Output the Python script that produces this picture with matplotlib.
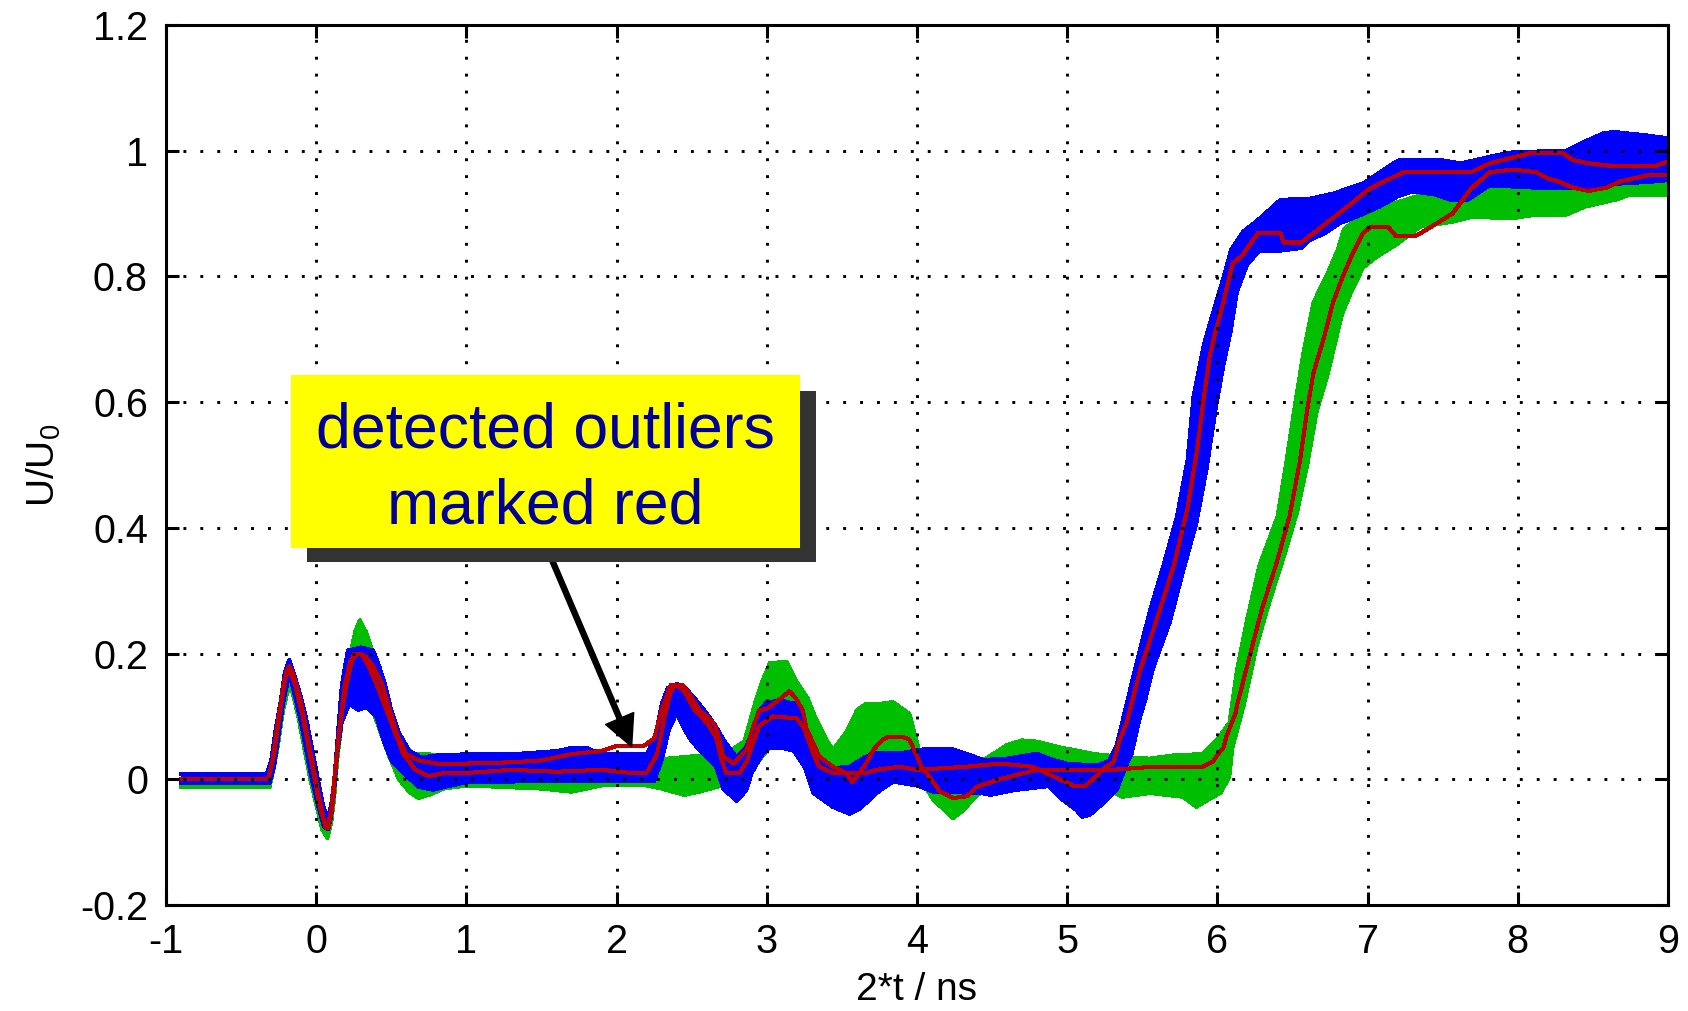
import matplotlib
matplotlib.use("Agg")
import matplotlib.pyplot as plt
from matplotlib.patches import Rectangle

plt.rcParams['font.family'] = ['Liberation Sans', 'DejaVu Sans']
plt.rcParams['axes.unicode_minus'] = False

# Envelopes of the two families of step responses, given as (t, U/U0) points.
# "upper" is the upper/left edge of the bundle, "lower" the lower/right edge.
BLUE_UPPER = [
    (-0.90, 0.008), (-0.33, 0.008), (-0.30, 0.03), (-0.27, 0.08), (-0.24, 0.12),
    (-0.21, 0.17), (-0.18, 0.19), (-0.15, 0.17), (-0.10, 0.13), (-0.06, 0.09),
    (-0.02, 0.04), (0.02, -0.01), (0.05, -0.045), (0.08, -0.06), (0.10, -0.04),
    (0.12, 0.0), (0.14, 0.06), (0.17, 0.15), (0.21, 0.205), (0.30, 0.21),
    (0.38, 0.205), (0.42, 0.18), (0.46, 0.15), (0.50, 0.11), (0.55, 0.075),
    (0.62, 0.045), (0.70, 0.035), (0.80, 0.038), (1.00, 0.04), (1.30, 0.04),
    (1.60, 0.045), (1.70, 0.05), (1.80, 0.05), (1.90, 0.04), (2.20, 0.04),
    (2.26, 0.07), (2.30, 0.12), (2.34, 0.145), (2.40, 0.152), (2.46, 0.145),
    (2.53, 0.126), (2.60, 0.105), (2.66, 0.085), (2.72, 0.06), (2.80, 0.035),
    (2.86, 0.05), (2.90, 0.075), (2.95, 0.11), (3.00, 0.123), (3.10, 0.125),
    (3.20, 0.12), (3.24, 0.09), (3.28, 0.055), (3.33, 0.036), (3.44, 0.018),
    (3.55, 0.02), (3.65, 0.035), (3.72, 0.042), (3.90, 0.042), (4.07, 0.049),
    (4.22, 0.049), (4.35, 0.039), (4.44, 0.031), (4.60, 0.033), (4.80, 0.041),
    (4.88, 0.033), (5.00, 0.025), (5.20, 0.022), (5.28, 0.03), (5.33, 0.055),
    (5.37, 0.095), (5.46, 0.184), (5.55, 0.268), (5.64, 0.34), (5.73, 0.418),
    (5.80, 0.507), (5.84, 0.608), (5.91, 0.692), (5.97, 0.742), (6.04, 0.798),
    (6.09, 0.842), (6.17, 0.871), (6.27, 0.89), (6.42, 0.922), (6.62, 0.924),
    (6.77, 0.932), (6.97, 0.948), (7.17, 0.98), (7.22, 0.986), (7.47, 0.986),
    (7.62, 0.98), (7.84, 0.992), (7.97, 0.998), (8.32, 1.0), (8.42, 1.012),
    (8.57, 1.028), (8.64, 1.03), (8.84, 1.025), (9.00, 1.02),
]
BLUE_LOWER = [
    (-0.90, -0.006), (-0.31, -0.006), (-0.28, 0.02), (-0.25, 0.07), (-0.22, 0.12),
    (-0.19, 0.155), (-0.17, 0.16), (-0.14, 0.13), (-0.11, 0.10), (-0.07, 0.05),
    (-0.03, 0.0), (0.01, -0.04), (0.05, -0.075), (0.08, -0.08), (0.10, -0.06),
    (0.12, -0.02), (0.14, 0.04), (0.17, 0.09), (0.22, 0.12), (0.28, 0.11),
    (0.33, 0.115), (0.40, 0.10), (0.45, 0.06), (0.50, 0.03), (0.58, 0.01),
    (0.68, -0.012), (0.78, -0.017), (0.86, -0.012), (1.00, -0.005), (1.50, -0.003),
    (2.25, -0.003), (2.30, 0.03), (2.35, 0.08), (2.40, 0.105), (2.45, 0.08),
    (2.50, 0.06), (2.58, 0.04), (2.66, 0.02), (2.71, -0.015), (2.80, -0.035),
    (2.865, -0.017), (2.90, 0.01), (2.96, 0.035), (3.00, 0.05), (3.10, 0.05),
    (3.18, 0.045), (3.25, 0.02), (3.31, -0.022), (3.44, -0.044), (3.55, -0.055),
    (3.62, -0.047), (3.73, -0.022), (3.84, -0.004), (4.00, -0.01), (4.11, -0.02),
    (4.43, -0.022), (4.49, -0.025), (4.66, -0.017), (4.88, -0.011), (4.97, -0.033),
    (5.06, -0.049), (5.10, -0.06), (5.15, -0.057), (5.24, -0.038), (5.33, -0.017),
    (5.39, 0.02), (5.43, 0.041), (5.48, 0.094), (5.52, 0.126), (5.574, 0.178),
    (5.685, 0.251), (5.77, 0.329), (5.86, 0.407), (5.93, 0.496), (5.99, 0.591),
    (6.04, 0.658), (6.09, 0.714), (6.13, 0.775), (6.20, 0.82), (6.28, 0.84),
    (6.39, 0.84), (6.56, 0.845), (6.61, 0.857), (6.71, 0.868), (6.81, 0.884),
    (6.93, 0.895), (7.08, 0.911), (7.20, 0.927), (7.30, 0.935), (7.45, 0.93),
    (7.55, 0.922), (7.67, 0.922), (7.80, 0.943), (7.95, 0.943), (8.20, 0.94),
    (8.45, 0.94), (8.70, 0.948), (8.87, 0.95), (9.00, 0.953),
]
GREEN_UPPER = [
    (-0.90, -0.004), (-0.32, -0.004), (-0.29, 0.03), (-0.26, 0.08), (-0.23, 0.12),
    (-0.20, 0.16), (-0.18, 0.17), (-0.14, 0.15), (-0.10, 0.12), (-0.06, 0.08),
    (-0.02, 0.03), (0.02, -0.02), (0.05, -0.06), (0.08, -0.07), (0.11, -0.03),
    (0.13, 0.03), (0.16, 0.10), (0.20, 0.17), (0.26, 0.235), (0.29, 0.253),
    (0.33, 0.235), (0.38, 0.20), (0.45, 0.15), (0.52, 0.09), (0.58, 0.055),
    (0.65, 0.04), (0.75, 0.04), (0.90, 0.035), (1.50, 0.035), (1.90, 0.04),
    (2.20, 0.03), (2.65, 0.04), (2.75, 0.045), (2.85, 0.06), (2.92, 0.12),
    (2.96, 0.15), (3.02, 0.185), (3.13, 0.187), (3.20, 0.155), (3.27, 0.13),
    (3.33, 0.095), (3.40, 0.062), (3.44, 0.047), (3.53, 0.075), (3.60, 0.11),
    (3.66, 0.12), (3.75, 0.12), (3.84, 0.123), (3.95, 0.104), (3.99, 0.068),
    (4.02, 0.04), (4.20, 0.03), (4.46, 0.033), (4.60, 0.055), (4.70, 0.062),
    (4.80, 0.06), (4.95, 0.051), (5.19, 0.04), (5.40, 0.035), (5.55, 0.033),
    (5.73, 0.039), (5.90, 0.04), (5.99, 0.061), (6.08, 0.09), (6.13, 0.174),
    (6.20, 0.257), (6.28, 0.341), (6.40, 0.418), (6.46, 0.507), (6.52, 0.602),
    (6.57, 0.675), (6.64, 0.759), (6.73, 0.803), (6.80, 0.842), (6.84, 0.874),
    (6.96, 0.90), (7.17, 0.916), (7.32, 0.927), (7.47, 0.938), (7.62, 0.945),
    (7.97, 0.943), (8.20, 0.948), (8.45, 0.953), (8.70, 0.959), (9.00, 0.967),
]
GREEN_LOWER = [
    (-0.90, -0.012), (-0.31, -0.012), (-0.28, 0.02), (-0.25, 0.06), (-0.22, 0.11),
    (-0.19, 0.14), (-0.16, 0.14), (-0.12, 0.10), (-0.08, 0.05), (-0.04, 0.0),
    (0.00, -0.04), (0.04, -0.08), (0.075, -0.094), (0.10, -0.07), (0.12, -0.03),
    (0.14, 0.03), (0.17, 0.09), (0.22, 0.13), (0.29, 0.12), (0.36, 0.12),
    (0.42, 0.08), (0.48, 0.04), (0.55, 0.0), (0.62, -0.02), (0.68, -0.03),
    (0.75, -0.025), (0.85, -0.015), (1.00, -0.01), (1.50, -0.015), (1.70, -0.02),
    (1.90, -0.01), (2.20, -0.01), (2.30, -0.015), (2.45, -0.025), (2.55, -0.02),
    (2.70, -0.01), (2.85, 0.0), (2.95, 0.03), (3.05, 0.06), (3.20, 0.06),
    (3.30, 0.03), (3.45, 0.0), (3.53, 0.01), (3.66, 0.025), (3.88, 0.04),
    (3.98, 0.03), (4.05, -0.01), (4.11, -0.033), (4.24, -0.062), (4.31, -0.049),
    (4.37, -0.033), (4.42, -0.022), (4.60, -0.005), (4.90, -0.005), (5.20, -0.01),
    (5.37, -0.028), (5.55, -0.022), (5.77, -0.028), (5.86, -0.044), (5.95, -0.031),
    (6.02, -0.022), (6.08, 0.004), (6.10, 0.05), (6.175, 0.117), (6.262, 0.212),
    (6.35, 0.285), (6.44, 0.352), (6.53, 0.424), (6.60, 0.502), (6.662, 0.586),
    (6.73, 0.64), (6.83, 0.74), (6.90, 0.78), (6.97, 0.814), (7.06, 0.831),
    (7.20, 0.852), (7.35, 0.879), (7.57, 0.887), (7.70, 0.895), (7.95, 0.892),
    (8.12, 0.898), (8.32, 0.898), (8.45, 0.911), (8.65, 0.922), (8.75, 0.93),
    (9.00, 0.93),
]

# Traces flagged as outliers
RED_EARLY = [
    (-0.90, 0.0), (-0.32, 0.0), (-0.28, 0.04), (-0.24, 0.11), (-0.20, 0.17),
    (-0.18, 0.18), (-0.15, 0.165), (-0.10, 0.12), (-0.06, 0.07), (-0.02, 0.02),
    (0.02, -0.03), (0.06, -0.075), (0.08, -0.078), (0.11, -0.04), (0.13, 0.02),
    (0.16, 0.09), (0.20, 0.15), (0.25, 0.20), (0.30, 0.20), (0.35, 0.18),
    (0.42, 0.14), (0.50, 0.09), (0.58, 0.04), (0.66, 0.015), (0.75, 0.005),
    (0.85, 0.01), (1.00, 0.01), (1.30, 0.015), (1.60, 0.012), (1.90, 0.015),
    (2.10, 0.01), (2.20, 0.01), (2.27, 0.04), (2.32, 0.10), (2.36, 0.14),
    (2.40, 0.15), (2.45, 0.14), (2.52, 0.11), (2.60, 0.09), (2.66, 0.068),
    (2.70, 0.03), (2.73, 0.01), (2.82, 0.01), (2.87, 0.03), (2.90, 0.052),
    (2.95, 0.085), (3.04, 0.10), (3.20, 0.097), (3.25, 0.08), (3.31, 0.04),
    (3.35, 0.02), (3.44, 0.01), (3.66, 0.01), (3.73, 0.015), (3.88, 0.02),
    (4.00, 0.015), (4.33, 0.02), (4.55, 0.025), (4.77, 0.02), (4.95, 0.0),
    (5.05, -0.011), (5.12, -0.011), (5.17, 0.0), (5.26, 0.02), (5.31, 0.028),
    (5.35, 0.063), (5.396, 0.09), (5.485, 0.173), (5.60, 0.257), (5.71, 0.34),
    (5.80, 0.43), (5.865, 0.524), (5.91, 0.608), (5.95, 0.675), (5.99, 0.714),
    (6.04, 0.759), (6.10, 0.82), (6.167, 0.834), (6.27, 0.869), (6.42, 0.869),
    (6.44, 0.854), (6.56, 0.854), (6.866, 0.911), (7.016, 0.94), (7.24, 0.966),
    (7.69, 0.966), (7.815, 0.98), (8.08, 0.996), (8.30, 0.996), (8.37, 0.985),
    (8.47, 0.98), (8.62, 0.976), (8.92, 0.976), (9.00, 0.983),
]
RED_LATE = [
    (-0.90, 0.0), (-0.32, 0.0), (-0.29, 0.03), (-0.25, 0.10), (-0.21, 0.16),
    (-0.18, 0.175), (-0.14, 0.15), (-0.09, 0.10), (-0.05, 0.05), (-0.01, 0.0),
    (0.03, -0.05), (0.07, -0.078), (0.10, -0.05), (0.12, 0.0), (0.15, 0.07),
    (0.19, 0.15), (0.23, 0.19), (0.28, 0.20), (0.33, 0.195), (0.38, 0.18),
    (0.44, 0.15), (0.49, 0.11), (0.54, 0.07), (0.60, 0.04), (0.68, 0.03),
    (0.80, 0.025), (1.00, 0.025), (1.30, 0.027), (1.50, 0.03), (1.70, 0.04),
    (1.90, 0.045), (2.00, 0.053), (2.18, 0.053), (2.25, 0.065), (2.30, 0.11),
    (2.36, 0.15), (2.44, 0.15), (2.49, 0.134), (2.55, 0.11), (2.62, 0.096),
    (2.66, 0.084), (2.69, 0.057), (2.71, 0.036), (2.78, 0.025), (2.865, 0.047),
    (2.91, 0.084), (2.95, 0.11), (3.00, 0.112), (3.10, 0.13), (3.15, 0.14),
    (3.19, 0.13), (3.24, 0.11), (3.265, 0.08), (3.31, 0.057), (3.35, 0.036),
    (3.44, 0.02), (3.53, 0.01), (3.57, -0.005), (3.66, 0.025), (3.71, 0.047),
    (3.77, 0.063), (3.81, 0.068), (3.90, 0.068), (3.95, 0.063), (3.99, 0.042),
    (4.03, 0.02), (4.08, 0.005), (4.15, -0.019), (4.24, -0.03), (4.33, -0.027),
    (4.40, -0.012), (4.55, 0.0), (4.68, 0.008), (4.80, 0.015), (5.30, 0.015),
    (5.57, 0.02), (5.90, 0.02), (5.97, 0.028), (6.00, 0.039), (6.04, 0.05),
    (6.06, 0.068), (6.12, 0.105), (6.13, 0.117), (6.22, 0.201), (6.30, 0.274),
    (6.39, 0.341), (6.48, 0.418), (6.55, 0.507), (6.60, 0.591), (6.64, 0.647),
    (6.71, 0.703), (6.77, 0.759), (6.84, 0.803), (6.90, 0.836), (6.97, 0.869),
    (7.016, 0.878), (7.14, 0.878), (7.19, 0.864), (7.316, 0.864), (7.39, 0.874),
    (7.565, 0.90), (7.69, 0.94), (7.815, 0.966), (7.97, 0.97), (8.12, 0.966),
    (8.20, 0.956), (8.27, 0.951), (8.37, 0.941), (8.47, 0.936), (8.59, 0.941),
    (8.68, 0.951), (8.87, 0.961), (9.00, 0.961),
]

X_TICKS = [-1, 0, 1, 2, 3, 4, 5, 6, 7, 8, 9]
Y_TICKS = [-0.2, 0, 0.2, 0.4, 0.6, 0.8, 1, 1.2]
X_TICK_LABELS = ['-1', '0', '1', '2', '3', '4', '5', '6', '7', '8', '9']
Y_TICK_LABELS = ['-0.2', '0', '0.2', '0.4', '0.6', '0.8', '1', '1.2']

BLUE = '#0000FF'
GREEN = '#00BF00'
RED = '#C00000'

W, H = 1688, 1011
fig = plt.figure(figsize=(W / 100, H / 100), dpi=100)
ax = fig.add_axes([166 / W, (H - 905) / H, 1502 / W, 880 / H])


def band(upper, lower, color, z):
    ux, uy = zip(*upper)
    lx, ly = zip(*lower)
    ax.fill(list(ux) + list(lx[::-1]), list(uy) + list(ly[::-1]),
            color=color, lw=0, antialiased=False, zorder=z)
    ax.plot(ux, uy, color=color, lw=2.0, antialiased=False, zorder=z + 0.05)
    ax.plot(lx, ly, color=color, lw=2.0, antialiased=False, zorder=z + 0.05)


band(GREEN_UPPER, GREEN_LOWER, GREEN, 1.0)
band(BLUE_UPPER, BLUE_LOWER, BLUE, 1.2)
for trace in (RED_EARLY, RED_LATE):
    tx, ty = zip(*trace)
    ax.plot(tx, ty, color=RED, lw=2.2, antialiased=False, zorder=2)

ax.set_xlim(-1, 9)
ax.set_ylim(-0.2, 1.2)
ax.set_xticks(X_TICKS)
ax.set_xticklabels(X_TICK_LABELS)
ax.set_yticks(Y_TICKS)
ax.set_yticklabels(Y_TICK_LABELS)

ax.set_axisbelow(False)
ax.grid(True, color='black', linestyle=(0, (1, 4.8)), linewidth=2.1)
for s in ax.spines.values():
    s.set_linewidth(2.2)
ax.tick_params(direction='in', length=9.5, width=2.2, top=True, right=True,
               labelsize=28.5, pad=13)

ax.set_xlabel('2*t / ns', fontsize=28, labelpad=8)
ax.set_ylabel('U/U$_\\mathregular{0}$', fontsize=28, labelpad=12)

# Call-out box with drop shadow and arrow
ax.annotate('', xy=(2.10, 0.052), xytext=(1.40, 0.444),
            arrowprops=dict(width=3.6, headwidth=22, headlength=22,
                            facecolor='black', edgecolor='black'),
            zorder=6)
ax.add_patch(Rectangle((-0.061, 0.345), 3.387, 0.273, facecolor='#333333',
                       edgecolor='none', zorder=7))
ax.add_patch(Rectangle((-0.165, 0.368), 3.383, 0.275, facecolor='#FFFF00',
                       edgecolor='none', zorder=8))
ax.text(1.523, 0.528, 'detected outliers', ha='center', va='baseline',
        fontsize=45, color='#000099', zorder=9)
ax.text(1.523, 0.407, 'marked red', ha='center', va='baseline',
        fontsize=45, color='#000099', zorder=9)

fig.savefig('out.png', dpi=100)
